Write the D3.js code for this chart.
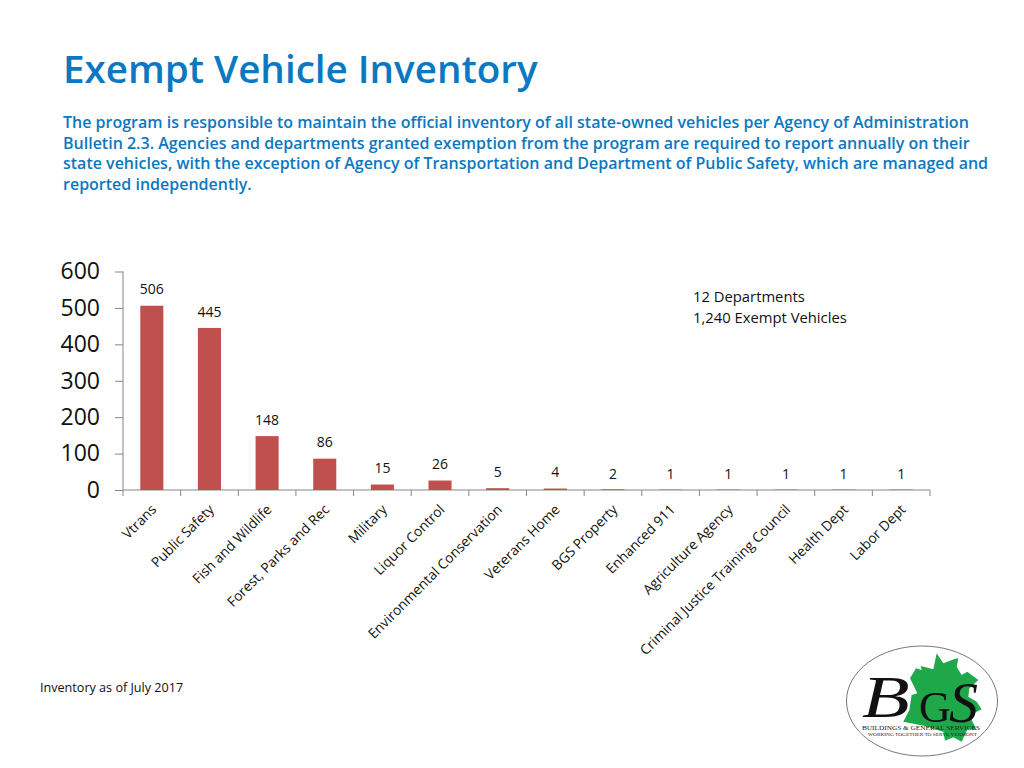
<!DOCTYPE html>
<html><head><meta charset="utf-8">
<script src="https://cdnjs.cloudflare.com/ajax/libs/d3/7.8.5/d3.min.js"></script>
<style>html,body{margin:0;padding:0;background:#fff}svg{display:block}text{font-family:"Open Sans","Noto Sans",sans-serif}</style>
</head><body><svg id="c" width="1024" height="768"></svg>
<script>
const categories=["Vtrans","Public Safety","Fish and Wildlife","Forest, Parks and Rec","Military","Liquor Control","Environmental Conservation","Veterans Home","BGS Property","Enhanced 911","Agriculture Agency","Criminal Justice Training Council","Health Dept","Labor Dept"];
const vehicles=[506,445,148,86,15,26,5,4,2,1,1,1,1,1];
const yTicks=[0,100,200,300,400,500,600];
const titleText="Exempt Vehicle Inventory";
const bodyLines=["The program is responsible to maintain the official inventory of all state-owned vehicles per Agency of Administration","Bulletin 2.3.  Agencies and departments granted exemption from the program are required to report annually on their","state vehicles, with the exception of Agency of Transportation and Department of Public Safety, which are managed and","reported independently."];
const noteLines=["12 Departments","1,240 Exempt Vehicles"];
const footer="Inventory as of July 2017";
const leafZoom=[[320,70],[340,100],[372,88],[385,85],[380,110],[395,135],[412,125],[445,150],[418,175],[415,200],[440,215],[455,238],[432,250],[425,270],[440,300],[412,298],[395,335],[370,322],[345,332],[340,305],[285,288],[220,275],[238,240],[245,195],[262,190],[240,145],[258,115],[275,120],[272,108],[310,118]];

const svg=d3.select("#c");
const x=d3.scaleBand().domain(categories).range([123,930]).paddingInner(0.6).paddingOuter(0.3);
const y=d3.scaleLinear().domain([0,600]).range([490,271.5]);
const step=x.step();
const blue="#0b78c1", axisCol="#868686", red="#c0504d";

svg.append("text").attr("x",63).attr("y",82.5).attr("fill",blue).attr("font-size",38.6).attr("font-weight",600).text(titleText);
svg.append("g").selectAll("text").data(bodyLines).join("text")
 .attr("x",63).attr("y",(d,i)=>128+i*20.7).attr("fill",blue).attr("font-size",16).attr("font-weight",600).text(d=>d);

const ax=d3.axisLeft(y).tickValues(yTicks).tickSize(8).tickPadding(15);
const gy=svg.append("g").attr("transform","translate(123,0)").call(ax);
gy.select(".domain").attr("stroke",axisCol).attr("d","M0,271.5V490");
gy.selectAll("line").attr("stroke",axisCol);
gy.selectAll("text").attr("font-size",23).attr("fill","#111");

const bx=d3.axisBottom(x).tickSize(0).tickFormat("");
const gx=svg.append("g").attr("transform","translate(0,490)").call(bx);
gx.select(".domain").attr("stroke",axisCol).attr("d","M123,0H930");
gx.selectAll(".tick").remove();
gx.selectAll("line.t").data(d3.range(categories.length+1)).join("line").attr("class","t")
 .attr("x1",i=>123+i*step).attr("x2",i=>123+i*step).attr("y1",0).attr("y2",6).attr("stroke",axisCol);

svg.append("g").selectAll("rect").data(vehicles).join("rect")
 .attr("x",(d,i)=>x(categories[i])).attr("width",x.bandwidth())
 .attr("y",d=>y(d)).attr("height",d=>490-y(d)).attr("fill",red);

const labelY=[289,312,420,442,468,464,472,472,474,474,474,474,474,474];
svg.append("g").selectAll("text").data(vehicles).join("text")
 .attr("x",(d,i)=>x(categories[i])+x.bandwidth()/2)
 .attr("y",(d,i)=>labelY[i]).attr("dy","0.35em").attr("text-anchor","middle")
 .attr("font-size",14).attr("fill","#111").text(d=>d);

svg.append("g").selectAll("text").data(categories).join("text")
 .attr("transform",d=>`translate(${x(d)+x.bandwidth()/2+2},507) rotate(-45)`)
 .attr("text-anchor","end").attr("dy","0.35em").attr("font-size",13.8).attr("fill","#111").text(d=>d);

svg.append("g").selectAll("text").data(noteLines).join("text")
 .attr("x",693).attr("y",(d,i)=>302+i*21).attr("font-size",14.8).attr("fill","#111").text(d=>d);
svg.append("text").attr("x",40).attr("y",692).attr("font-size",12.6).attr("fill","#111").text(footer);

const lx=d3.scaleLinear().domain([0,190]).range([830,1020]);
const ly=d3.scaleLinear().domain([0,135]).range([630,765]);
const logo=svg.append("g");
const serif="'Liberation Serif',serif";
logo.append("ellipse").attr("cx",922).attr("cy",701).attr("rx",75.5).attr("ry",55).attr("fill","#fff").attr("stroke","#555").attr("stroke-width",0.8);
logo.append("polygon").attr("points",leafZoom.map(p=>[lx(p[0]/3),ly(p[1]/3)].join(",")).join(" ")).attr("fill","#1fa84a");
logo.append("text").attr("transform","translate(862,717) scale(1.3,1)").attr("font-size",60).attr("font-style","italic").style("font-family",serif).attr("fill","#111").text("B");
logo.append("text").attr("x",919).attr("y",722).attr("font-size",44).style("font-family",serif).attr("fill","#111").text("G");
logo.append("text").attr("x",949).attr("y",722).attr("font-size",58).attr("font-style","italic").style("font-family",serif).attr("fill","#111").text("S");
logo.append("text").attr("x",862).attr("y",729.5).attr("font-size",7).style("font-family",serif).attr("fill","#222").attr("textLength",118).attr("lengthAdjust","spacingAndGlyphs").text("BUILDINGS & GENERAL SERVICES");
logo.append("text").attr("x",868).attr("y",735.5).attr("font-size",5).style("font-family",serif).attr("fill","#222").attr("textLength",109).attr("lengthAdjust","spacingAndGlyphs").text("WORKING TOGETHER TO SERVE VERMONT");
</script></body></html>
